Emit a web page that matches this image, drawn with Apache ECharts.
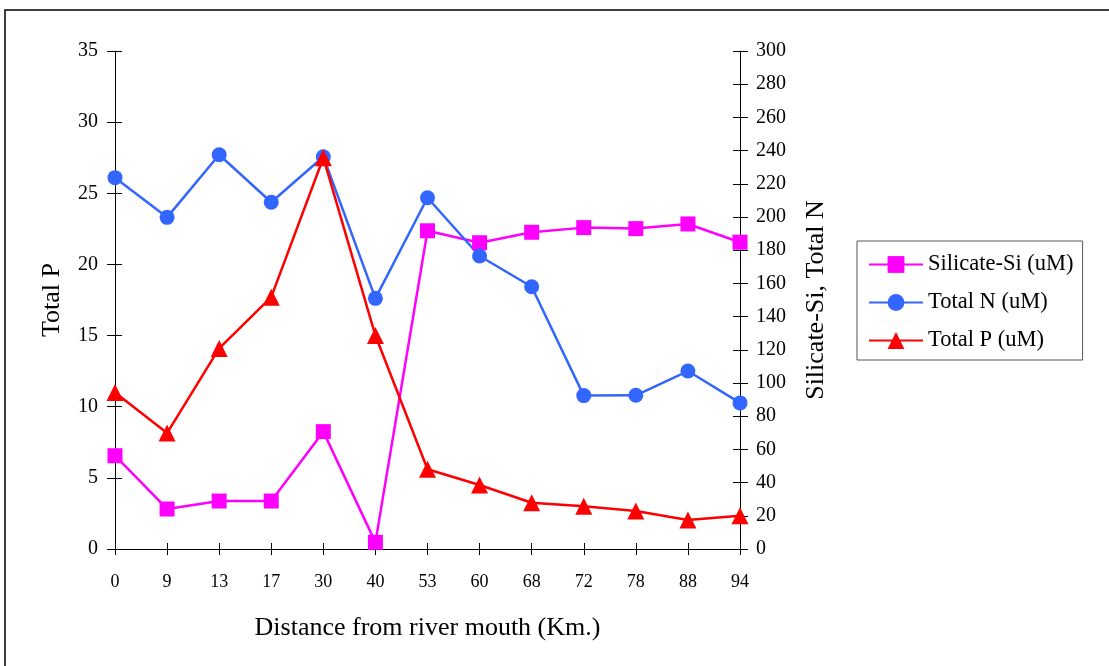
<!DOCTYPE html>
<html>
<head>
<meta charset="utf-8">
<script src="https://cdn.jsdelivr.net/npm/echarts@6/dist/echarts.min.js"></script>
<style>html,body{margin:0;padding:0;background:#fff;}#c{width:1109px;height:666px;}</style>
</head>
<body>
<div id="c"></div>
<script>
const categories = ['0','9','13','17','30','40','53','60','68','72','78','88','94'];
const silicate = [56.2, 24.1, 28.9, 28.9, 70.7, 4, 191.7, 184.5, 190.8, 193.6, 193, 195.8, 184.8];
const totalN = [223.7, 199.8, 237.5, 208.9, 236.3, 151, 211.6, 176.5, 158, 92.4, 92.6, 107.2, 88];
const totalP = [11.0, 8.15, 14.1, 17.7, 27.5, 15.0, 5.6, 4.5, 3.25, 3.0, 2.67, 2.04, 2.34];
const seriesNames = ['Silicate-Si (uM)', 'Total N (uM)', 'Total P (uM)'];

const font = 'Liberation Serif';
const chart = echarts.init(document.getElementById('c'));
const grid = {left:115, right:369, top:51, bottom:117};
const axLine = {show:true, lineStyle:{color:'#000', width:1}};
chart.setOption({
  animation:false,
  textStyle:{fontFamily:font},
  graphic:[{type:'rect', shape:{x:5, y:10, width:1110, height:700}, style:{fill:'none', stroke:'#000', lineWidth:1.5}, silent:true}],
  grid:grid,
  legend:{
    orient:'vertical', left:857, top:241,
    data:seriesNames,
    itemWidth:54, itemHeight:21, itemGap:15,
    padding:[12,9,8,11],
    borderColor:'#555', borderWidth:1,
    textStyle:{fontFamily:font, fontSize:22.5, color:'#000'}
  },
  xAxis:[{
    type:'category', data:categories, boundaryGap:false,
    axisLine:axLine,
    axisTick:{show:true, length:6, alignWithLabel:true, lineStyle:{color:'#000'}},
    axisLabel:{fontFamily:font, fontSize:18, color:'#000', margin:24},
    name:'Distance from river mouth (Km.)', nameLocation:'middle', nameGap:66,
    nameTextStyle:{fontFamily:font, fontSize:26, color:'#000'}
  },{
    type:'category', data:categories, boundaryGap:false, position:'bottom',
    axisLine:{show:false},
    axisTick:{show:true, inside:true, length:6, lineStyle:{color:'#000'}},
    axisLabel:{show:false}
  }],
  yAxis:[{
    type:'value', min:0, max:35, interval:5, position:'left',
    axisLine:axLine, splitLine:{show:false},
    axisTick:{show:true, length:8, lineStyle:{color:'#000'}},
    axisLabel:{fontFamily:font, fontSize:20, color:'#000', margin:17},
    name:'Total P', nameLocation:'middle', nameGap:50,
    nameTextStyle:{fontFamily:font, fontSize:26, color:'#000'}
  },{
    type:'value', min:0, max:300, interval:20, position:'right',
    axisLine:axLine, splitLine:{show:false},
    axisTick:{show:true, length:8, lineStyle:{color:'#000'}},
    axisLabel:{fontFamily:font, fontSize:20, color:'#000', margin:16},
    name:'Silicate-Si, Total N', nameLocation:'middle', nameGap:63, nameRotate:90,
    nameTextStyle:{fontFamily:font, fontSize:26, color:'#000'}
  },{
    type:'value', min:0, max:35, interval:5, position:'left',
    axisLine:{show:false}, splitLine:{show:false},
    axisTick:{show:true, inside:true, length:7, lineStyle:{color:'#000'}},
    axisLabel:{show:false}
  },{
    type:'value', min:0, max:300, interval:20, position:'right',
    axisLine:{show:false}, splitLine:{show:false},
    axisTick:{show:true, inside:true, length:7, lineStyle:{color:'#000'}},
    axisLabel:{show:false}
  }],
  series:[{
    name:seriesNames[0], type:'line', yAxisIndex:1, data:silicate,
    symbol:'rect', symbolSize:15,
    itemStyle:{color:'#FF00FF'}, lineStyle:{color:'#FF00FF', width:2.5}
  },{
    name:seriesNames[1], type:'line', yAxisIndex:1, data:totalN,
    symbol:'circle', symbolSize:15,
    itemStyle:{color:'#3366FF'}, lineStyle:{color:'#3366FF', width:2.5}
  },{
    name:seriesNames[2], type:'line', yAxisIndex:0, data:totalP,
    symbol:'triangle', symbolSize:17,
    itemStyle:{color:'#FF0000'}, lineStyle:{color:'#FF0000', width:2.5}
  }]
});
</script>
</body>
</html>
